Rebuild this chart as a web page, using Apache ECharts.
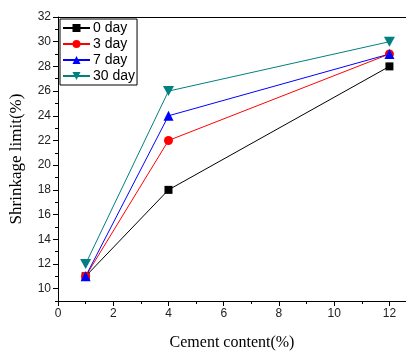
<!DOCTYPE html>
<html>
<head>
<meta charset="utf-8">
<script src="https://cdn.jsdelivr.net/npm/echarts@6/dist/echarts.min.js"></script>
<style>
  html, body { margin: 0; padding: 0; background: #fff; }
  #main { width: 406px; height: 356px; }
</style>
</head>
<body>
<div id="main"></div>
<script>
  // cement content (%)
  var cement = [1, 4, 12];
  // shrinkage limit (%) per curing age
  var day0 = [11, 18, 28];
  var day3 = [11, 22, 29];
  var day7 = [11, 24, 29];
  var day30 = [12, 26, 30];
  var names = ['0 day', '3 day', '7 day', '30 day'];

  var xTicks = [0, 2, 4, 6, 8, 10, 12];
  var xMinor = [1, 3, 5, 7, 9, 11];
  var yTicks = [10, 12, 14, 16, 18, 20, 22, 24, 26, 28, 30, 32];
  var yMinor = [9, 11, 13, 15, 17, 19, 21, 23, 25, 27, 29, 31];

  var downTri = 'path://M0,0 L10,0 L5,9 Z';

  function pairs(ys) {
    return cement.map(function (x, i) { return [x, ys[i]]; });
  }

  var myChart = echarts.init(document.getElementById('main'));
  var labelFont = { fontFamily: 'Liberation Sans, Arial', fontSize: 12, color: '#222' };
  var axisLine = { show: true, lineStyle: { color: '#000', width: 1 } };

  myChart.setOption({
    animation: false,
    grid: { left: 57, top: 17, right: 0, bottom: 49 },
    legend: {
      data: names,
      orient: 'vertical',
      left: 60,
      top: 19,
      itemWidth: 27,
      itemHeight: 10,
      itemGap: 2,
      padding: [2, 2, 2, 2],
      borderColor: '#000',
      borderWidth: 1,
      backgroundColor: '#fff',
      textStyle: { fontFamily: 'Liberation Sans, Arial', fontSize: 14, color: '#000', padding: [0, 0, 0, -2] }
    },
    xAxis: [{
      type: 'value',
      min: 0,
      max: 12.6,
      name: 'Cement content(%)',
      nameLocation: 'middle',
      nameGap: 34,
      nameTextStyle: { fontFamily: 'Liberation Serif, Times New Roman', fontSize: 16, color: '#000' },
      axisLine: axisLine,
      axisTick: { show: true, length: 5, inside: false, customValues: xTicks, lineStyle: { color: '#000' } },
      axisLabel: Object.assign({ customValues: xTicks, margin: 7 }, labelFont),
      splitLine: { show: false }
    }, {
      type: 'value',
      position: 'bottom',
      min: 0,
      max: 12.6,
      axisLine: { show: false },
      axisTick: { show: true, length: 3, customValues: xMinor, lineStyle: { color: '#000' } },
      axisLabel: { show: false },
      splitLine: { show: false }
    }, {
      type: 'value',
      position: 'top',
      min: 0,
      max: 12.6,
      axisLine: axisLine,
      axisTick: { show: false },
      axisLabel: { show: false },
      splitLine: { show: false }
    }],
    yAxis: [{
      type: 'value',
      min: 9,
      max: 32,
      name: 'Shrinkage limit(%)',
      nameLocation: 'middle',
      nameGap: 33,
      nameTextStyle: { fontFamily: 'Liberation Serif, Times New Roman', fontSize: 17, color: '#000' },
      axisLine: axisLine,
      axisTick: { show: true, length: 5, customValues: yTicks, lineStyle: { color: '#000' } },
      axisLabel: Object.assign({ customValues: yTicks, margin: 7 }, labelFont),
      splitLine: { show: false }
    }, {
      type: 'value',
      position: 'left',
      min: 9,
      max: 32,
      axisLine: { show: false },
      axisTick: { show: true, length: 3, customValues: yMinor, lineStyle: { color: '#000' } },
      axisLabel: { show: false },
      splitLine: { show: false }
    }],
    series: [{
      name: names[0], type: 'line', data: pairs(day0),
      symbol: 'rect', symbolSize: 8,
      lineStyle: { color: '#000', width: 1 }, itemStyle: { color: '#000' }
    }, {
      name: names[1], type: 'line', data: pairs(day3),
      symbol: 'circle', symbolSize: 9,
      lineStyle: { color: '#ff0000', width: 1 }, itemStyle: { color: '#ff0000' }
    }, {
      name: names[2], type: 'line', data: pairs(day7),
      symbol: 'triangle', symbolSize: 10,
      lineStyle: { color: '#0000ff', width: 1 }, itemStyle: { color: '#0000ff' }
    }, {
      name: names[3], type: 'line', data: pairs(day30),
      symbol: downTri, symbolSize: [11, 10],
      lineStyle: { color: '#008080', width: 1 }, itemStyle: { color: '#008080' }
    }]
  });
</script>
</body>
</html>
